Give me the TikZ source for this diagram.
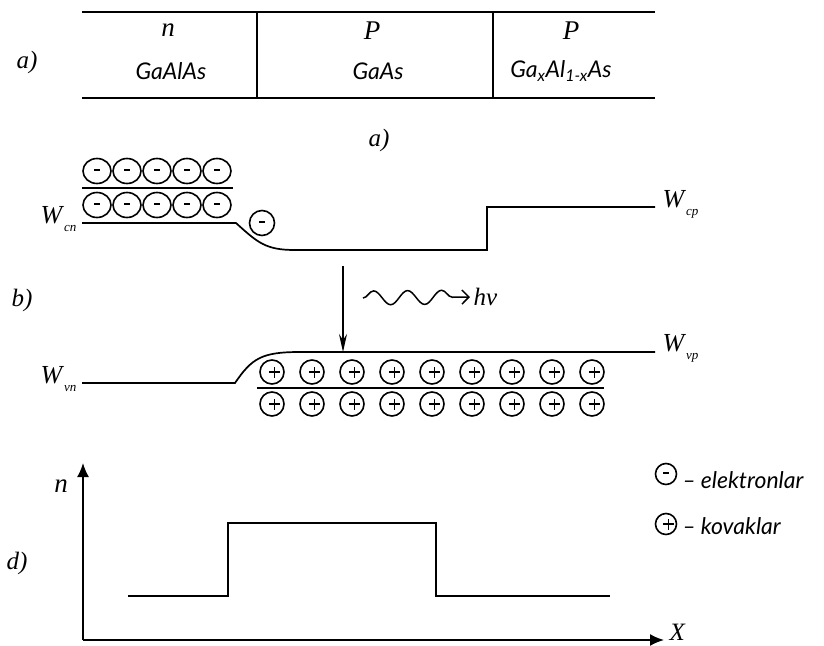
\documentclass[tikz,border=0pt]{standalone}
\usepackage{fontspec}
\setmainfont{Liberation Serif}
\newfontfamily\lbfont{Lato}
\usetikzlibrary{arrows.meta,positioning,shapes.geometric,decorations.pathmorphing}
\newcommand{\Wlvl}[1]{\textit{W}\raisebox{-8pt}{\fontsize{13}{13}\selectfont\itshape #1}}
\newcommand{\minussign}{\rule[2.5pt]{6pt}{2pt}}
\newcommand{\plussign}{\rlap{\rule[4pt]{11pt}{1.4pt}}\hspace{4.8pt}\rule[-0.8pt]{1.4pt}{11pt}\hspace{4.8pt}}

\tikzset{
  band/.style={line width=1.7pt},
  elec/.style={ellipse, draw, line width=1.6pt, minimum width=28pt, minimum height=25pt,
    inner sep=0pt},
  hole/.style={circle, draw, line width=1.6pt, minimum size=24pt, inner sep=0pt},
  lbl/.style={font=\lbfont\itshape\fontsize{23}{25}\selectfont},
  tag/.style={font=\itshape\fontsize{25}{25}\selectfont},
  lvl/.style={font=\fontsize{26}{26}\selectfont},
}

\begin{document}
\begin{tikzpicture}[x=1pt, y=-1pt]
    \useasboundingbox (0,0) rectangle (824,645);

    % --- a) layer structure ---
    \draw[band] (82,12) -- (655,12);
    \draw[band] (82,98) -- (655,98);
    \draw[band] (257,12) -- (257,98);
    \draw[band] (493,12) -- (493,98);
    \node[tag] (lblA) at (27,62) {a)};
    \node[tag, font=\itshape\fontsize{27}{27}\selectfont] (typeN) at (168,30) {n};
    \node[lbl] (matN) at (171,71) {GaAlAs};
    \node[tag, font=\itshape\fontsize{27}{27}\selectfont] (typeP) at (372,31) {P};
    \node[lbl] (matP) at (378,71) {GaAs};
    \node[tag, font=\itshape\fontsize{27}{27}\selectfont] (typePP) at (571,31) {P};
    \node[lbl] (matPP) at (561,71) {Ga\textsubscript{x}Al\textsubscript{1-x}As};
    \node[tag] (capA) at (379,140) {a)};

    % --- b) conduction band ---
    \foreach \i in {0,...,4} {
        \node[elec] (eTop\i) at (97+30*\i,171) {\minussign};
        \node[elec] (eBot\i) at (97+30*\i,205) {\minussign};
    }
    \draw[band] (82,188) -- (233,188);
    \draw[band] (82,223) -- (236,223) .. controls (258,243) and (266,250) .. (295,250)
        -- (487,250) -- (487,207) -- (655,207);
    \node[elec, minimum width=25pt] (eFree) at (262,223) {\minussign};
    \node[lvl, anchor=east] (Wcn) at (80,219) {\Wlvl{cn}};
    \node[lvl, anchor=west] (Wcp) at (659,204) {\Wlvl{cp}};

    % --- b) valence band ---
    \node[tag] (lblB) at (22,300) {b)};
    \draw[band] (82,383) -- (235,383) .. controls (252,358) and (262,352) .. (300,352)
        -- (655,352);
    \foreach \i in {0,...,8} {
        \node[hole] (hTop\i) at (272+40*\i,372) {\plussign};
        \node[hole] (hBot\i) at (272+40*\i,404) {\plussign};
    }
    \draw[band] (257,388) -- (604,388);
    \node[lvl, anchor=east] (Wvn) at (80,379) {\Wlvl{vn}};
    \node[lvl, anchor=west] (Wvp) at (659,348) {\Wlvl{vp}};

    % transition and photon
    \coordinate (trTop) at (343,266);
    \coordinate (trEnd) at (343,352);
    \draw[line width=1.5pt, -{Stealth[length=18pt, width=8pt]}] (trTop) -- (trEnd);
    \node[tag, anchor=west] (hnu) at (470,297) {hν};
    \coordinate (waveStart) at (363,298);
    \draw[line width=1.5pt, -{Straight Barb[length=7pt, width=14pt]},
        decorate, decoration={snake, amplitude=7pt, segment length=34pt, post length=16pt}]
        (waveStart) -- (hnu.west);

    % --- d) concentration ---
    \node[tag] (lblD) at (17,563) {d)};
    \coordinate (orig) at (83,640);
    \coordinate (yEnd) at (83,463);
    \coordinate (xEnd) at (664,640);
    \draw[band, -{Latex[length=14pt, width=12pt]}] (orig) -- (yEnd);
    \draw[band, -{Latex[length=14pt, width=12pt]}] (orig) -- (xEnd);
    \node[tag, font=\itshape\fontsize{27}{27}\selectfont] (axN) at (61,486) {n};
    \node[tag, anchor=base west] (axX) at (666,640) {X};
    \draw[band] (128,596) -- (228,596) -- (228,523) -- (436,523) -- (436,596) -- (610,596);

    % legend
    \node[elec, minimum width=21pt, minimum height=21pt] (legE) at (666,474) {\minussign};
    \node[lbl, anchor=west] (legEtxt) at (679,480) {–\hspace{5pt}elektronlar};
    \node[hole, minimum size=21pt] (legH) at (666,524) {\plussign};
    \node[lbl, anchor=west] (legHtxt) at (679,526) {–\hspace{5pt}kovaklar};
\end{tikzpicture}
\end{document}
